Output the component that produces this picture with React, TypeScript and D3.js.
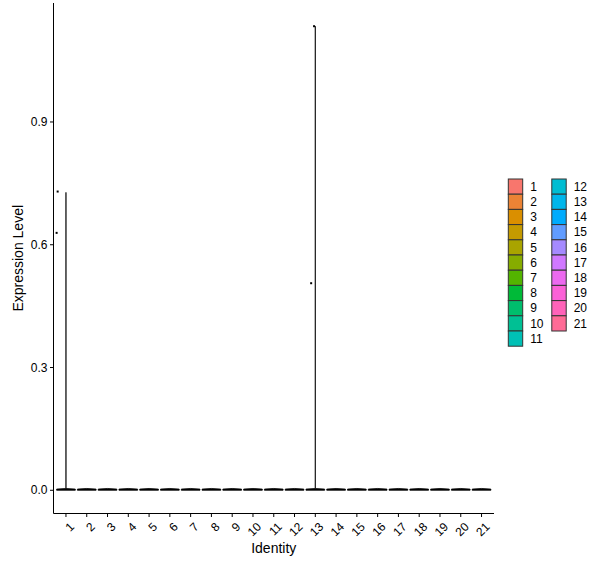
import React from "react";
import * as d3 from "d3";

const identities = ["1","2","3","4","5","6","7","8","9","10","11","12","13","14","15","16","17","18","19","20","21"];
// maximum expression per identity (top of each violin)
const violinMax = [0.728,0.004,0.004,0.004,0.004,0.004,0.004,0.004,0.004,0.004,0.004,0.004,1.134,0.004,0.004,0.004,0.004,0.004,0.004,0.004,0.004];
// visible non-zero cells (identity, value, horizontal jitter in category units)
const pointIdent = ["1","1","13","13"];
const pointValue = [0.730,0.629,0.506,1.134];
const pointJitter = [-0.40,-0.45,-0.20,-0.06];
const yTicks = [0.0,0.3,0.6,0.9];

const W = 600, H = 568;
const panel = { left: 53.5, right: 494, top: 3, bottom: 513.5 };
const FONT = "'Liberation Sans', Arial, Helvetica, sans-serif";

// ggplot2 hue_pal (polar LUV -> sRGB)
function hclLuv(h: number, c: number, l: number): string {
  const hr = (h * Math.PI) / 180;
  const U = c * Math.cos(hr), V = c * Math.sin(hr);
  const Xn = 95.047, Yn = 100, Zn = 108.883;
  const Y = l > 7.999592 ? Yn * Math.pow((l + 16) / 116, 3) : (Yn * l) / 903.3;
  const t = Xn + 15 * Yn + 3 * Zn;
  const un = (4 * Xn) / t, vn = (9 * Yn) / t;
  const up = U / (13 * l) + un, vp = V / (13 * l) + vn;
  const X = (9 * Y * up) / (4 * vp);
  const Z = (Y * (12 - 3 * up - 20 * vp)) / (4 * vp);
  const x = X / 100, y = Y / 100, z = Z / 100;
  const lin = [
    3.2404542 * x - 1.5371385 * y - 0.4985314 * z,
    -0.969266 * x + 1.8760108 * y + 0.041556 * z,
    0.0556434 * x - 0.2040259 * y + 1.0572252 * z,
  ];
  const g = lin.map((v) => {
    const s = v <= 0.0031308 ? 12.92 * v : 1.055 * Math.pow(v, 1 / 2.4) - 0.055;
    return Math.round(Math.max(0, Math.min(1, s)) * 255);
  });
  return "#" + g.map((v) => v.toString(16).padStart(2, "0")).join("");
}
const colors = identities.map((_, i) => hclLuv(15 + (360 * i) / identities.length, 100, 65));

export default function App() {
  const allVals = [...violinMax, ...pointValue, 0];
  const lo = d3.min(allVals)!, hi = d3.max(allVals)!;
  const pad = (hi - lo) * 0.05;
  const y = d3.scaleLinear().domain([lo - pad, hi + pad]).range([panel.bottom, panel.top]);
  const x = d3.scalePoint<string>().domain(identities).range([panel.left, panel.right]).padding(0.6);
  const step = x.step();
  const half = step * 0.45;

  const area = d3
    .area<{ v: number; w: number }>()
    .y((d) => y(d.v))
    .curve(d3.curveLinear);

  const violins = identities.map((id, i) => {
    const cx = x(id)!;
    const prof = [
      { v: 0, w: 1 },
      { v: 0.003, w: 1 },
      { v: 0.0045, w: 0 },
      { v: Math.max(violinMax[i], 0.0045), w: 0 },
    ];
    const a = area.x0((d) => cx - d.w * half).x1((d) => cx + d.w * half);
    return (
      <path key={id} d={a(prof)!} fill="#000" stroke="#000" strokeWidth={0.75} strokeLinejoin="round" />
    );
  });

  const legendTop = 179, keyW = 14.4, keyH = 15.2;
  const colX = [508.3, 551.8];
  const perCol = 11;

  return (
    <div style={{ position: "absolute", left: 0, top: 0 }}>
      <svg width={W} height={H} style={{ display: "block", background: "#fff" }} fontFamily={FONT}>
        <rect width={W} height={H} fill="#fff" />
        {violins}
        {pointValue.map((v, i) => (
          <rect
            key={i}
            x={x(pointIdent[i])! + pointJitter[i] * step - 1}
            y={y(v) - 1}
            width={2}
            height={2}
            fill="#000"
          />
        ))}
        {/* axes */}
        <line x1={panel.left} x2={panel.left} y1={panel.top} y2={panel.bottom} stroke="#000" strokeWidth={1} />
        <line x1={panel.left} x2={panel.right} y1={panel.bottom} y2={panel.bottom} stroke="#000" strokeWidth={1} />
        {yTicks.map((t) => (
          <g key={t}>
            <line x1={panel.left - 3.5} x2={panel.left} y1={y(t)} y2={y(t)} stroke="#000" />
            <text x={panel.left - 6} y={y(t)} dy="0.35em" textAnchor="end" fontSize={12} fill="#000">
              {d3.format(".1f")(t)}
            </text>
          </g>
        ))}
        {identities.map((id) => (
          <g key={id}>
            <line x1={x(id)!} x2={x(id)!} y1={panel.bottom} y2={panel.bottom + 3.5} stroke="#000" />
            <text
              transform={`translate(${x(id)! + 3},${panel.bottom + 8}) rotate(-45)`}
              textAnchor="end"
              dy="0.7em"
              fontSize={12}
              fill="#000"
            >
              {id}
            </text>
          </g>
        ))}
        <text x={(panel.left + panel.right) / 2} y={553} textAnchor="middle" fontSize={14} fill="#000">
          Identity
        </text>
        <text
          transform={`translate(23,${(panel.top + panel.bottom) / 2}) rotate(-90)`}
          textAnchor="middle"
          fontSize={14}
          fill="#000"
        >
          Expression Level
        </text>
        {/* legend */}
        {identities.map((id, i) => {
          const col = Math.floor(i / perCol);
          const row = i % perCol;
          const kx = colX[col], ky = legendTop + row * keyH;
          return (
            <g key={id}>
              <rect x={kx} y={ky} width={keyW} height={keyH} fill={colors[i]} stroke="#333" strokeWidth={1} />
              <text x={kx + keyW + 7.5} y={ky + keyH / 2} dy="0.35em" fontSize={12} fill="#000">
                {id}
              </text>
            </g>
          );
        })}
      </svg>
    </div>
  );
}
